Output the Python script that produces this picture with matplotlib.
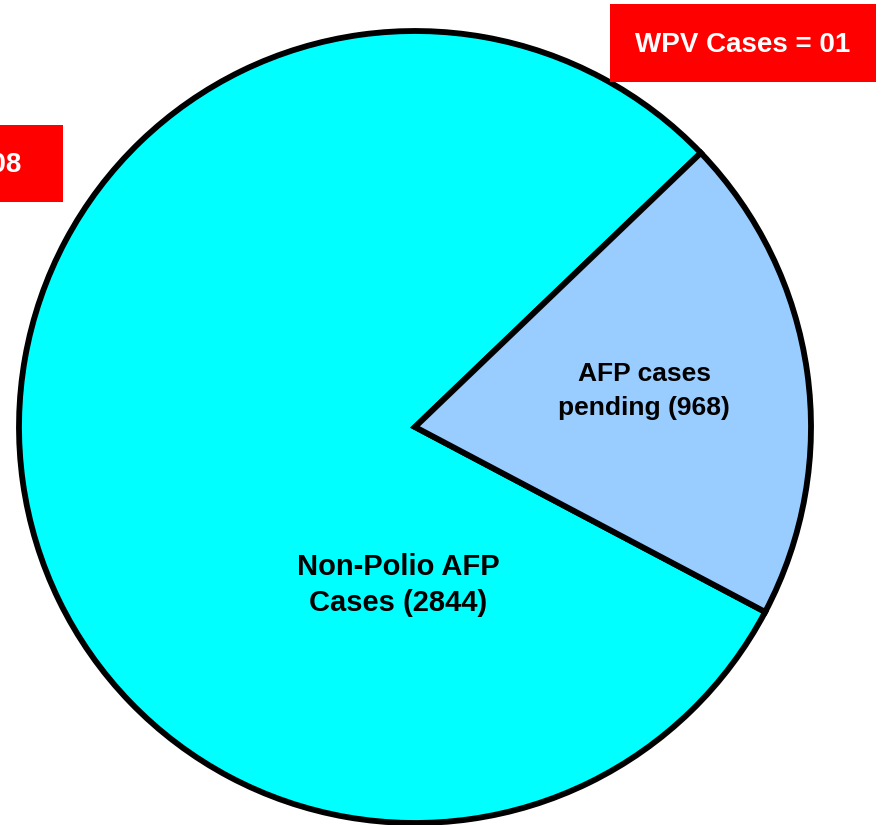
import matplotlib
matplotlib.use("Agg")
import matplotlib.pyplot as plt
from matplotlib.patches import Rectangle

plt.rcParams['font.family'] = ['Liberation Sans', 'DejaVu Sans']

# slices as drawn (share of the circle)
labels = ['Non-Polio AFP\nCases (2844)', 'AFP cases\npending (968)']
shares = [80.1, 19.9]
colors = ['#00FFFF', '#99CCFF']

# boxes
wpv_text = 'WPV Cases = 01'
compat_text = 'Compatible = 08'

fig = plt.figure(figsize=(8.82, 8.25), dpi=100)
ax = fig.add_axes([0, 0, 1, 1])

wedges, _ = ax.pie(shares, colors=colors, startangle=43.8, counterclock=True,
                   center=(415, 398), radius=396, frame=True,
                   wedgeprops=dict(edgecolor='black', linewidth=4.2))

ax.set_xlim(0, 882)
ax.set_ylim(0, 825)
ax.set_aspect('equal')
ax.axis('off')

# slice labels
ax.text(398, 240, labels[0], ha='center', va='center', fontsize=21,
        fontweight='bold', linespacing=1.4)
ax.text(644, 434, labels[1], ha='center', va='center', fontsize=19,
        fontweight='bold', linespacing=1.55)

# red boxes
ax.add_patch(Rectangle((610, 743), 266, 78, facecolor='#FF0000', edgecolor='none'))
ax.text(743, 780, wpv_text, ha='center', va='center', color='white',
        fontsize=20, fontweight='bold')

ax.add_patch(Rectangle((-200, 623), 263, 77, facecolor='#FF0000', edgecolor='none',
                       clip_on=True))
ax.text(21, 660, compat_text, ha='right', va='center', color='white',
        fontsize=20, fontweight='bold')

fig.savefig('out.png', dpi=100)
